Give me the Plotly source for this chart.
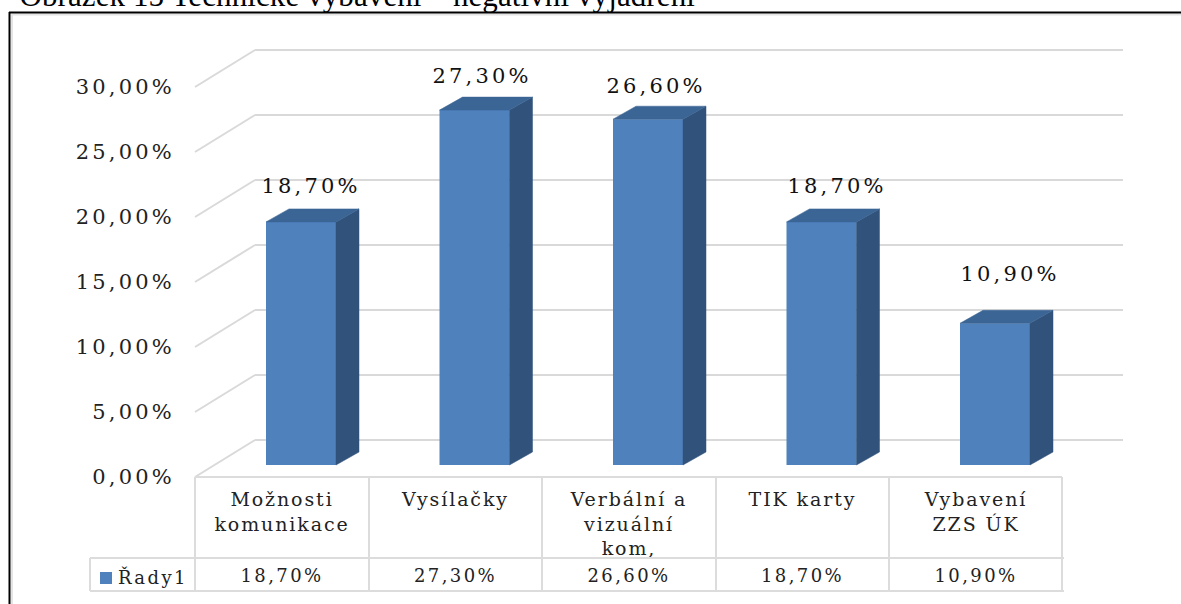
import plotly.graph_objects as go

# --- data ---
categories = ["Možnosti<br>komunikace", "Vysílačky", "Verbální a<br>vizuální<br>kom,", "TIK karty", "Vybavení<br>ZZS ÚK"]
values = [18.7, 27.3, 26.6, 18.7, 10.9]
value_labels = ["18,70%", "27,30%", "26,60%", "18,70%", "10,90%"]
tick_values = [0, 5, 10, 15, 20, 25, 30]
tick_labels = ["0,00%", "5,00%", "10,00%", "15,00%", "20,00%", "25,00%", "30,00%"]
series_name = "Řady1"
title_text = "Obrázek 15 Technické vybavení – negativní vyjádření"

# --- geometry (page pixels -> axis units) ---
W, H = 1181, 604
PX_X = 173.5                # pixels per category
PX_Y = 13.0                 # pixels per percentage point
X0_PX, Y0_PX = 282.0, 477.0 # front-plane origin
def ux(px): return (px - X0_PX) / PX_X
def uy(py): return (Y0_PX - py) / PX_Y

bar_w = 70 / PX_X
bar_dx = 19.0 / PX_X        # bar front face sits this far into the floor
bar_base = 12 / PX_Y
depth_x = 23 / PX_X
depth_y = 13 / PX_Y
wall_dx = 60 / PX_X
wall_dy = 37 / PX_Y

FRONT, SIDE, TOP = "#4f81bd", "#31527a", "#3b6594"
GRID, TABLE = "#d9d9d9", "#dcdcdc"
SERIF = "DejaVu Serif"

fig = go.Figure()

# bars: front faces
xs = [i + bar_dx for i in range(len(values))]
fig.add_trace(go.Bar(x=xs, y=values, base=bar_base, width=bar_w,
                     marker=dict(color=FRONT, line_width=0), name=series_name, showlegend=False))

# side and top faces derive from each value
for x, v in zip(xs, values):
    l, r = x - bar_w / 2, x + bar_w / 2
    t = v + bar_base
    fig.add_trace(go.Scatter(
        x=[r, r + depth_x, r + depth_x, r, r],
        y=[bar_base, bar_base + depth_y, t + depth_y, t, bar_base],
        mode="lines", fill="toself", fillcolor=SIDE, line=dict(color=SIDE, width=0.5),
        hoverinfo="skip", showlegend=False))
    fig.add_trace(go.Scatter(
        x=[l, l + depth_x, r + depth_x, r, l],
        y=[t, t + depth_y, t + depth_y, t, t],
        mode="lines", fill="toself", fillcolor=TOP, line=dict(color=TOP, width=0.5),
        hoverinfo="skip", showlegend=False))

# value labels above the bars
label_dx = [10, 7, 8, 15, 15]
label_up = [36, 34, 33, 36, 49]
for x, v, s, dx, up in zip(xs, values, value_labels, label_dx, label_up):
    fig.add_annotation(x=x + dx / PX_X, y=v + bar_base + up / PX_Y, text=s, showarrow=False,
                       xanchor="center", yanchor="middle",
                       font=dict(family=SERIF, size=21, color="#111"))

# data-table row values
row_y = uy(577)
fig.add_trace(go.Scatter(x=list(range(len(values))), y=[row_y] * len(values), text=value_labels,
                         mode="text", textposition="middle center",
                         textfont=dict(family=SERIF, size=18, color="#222"),
                         hoverinfo="skip", showlegend=False))
fig.add_trace(go.Scatter(x=[ux(106)], y=[row_y - 1 / PX_Y], mode="markers",
                         marker=dict(symbol="square", size=12, color=FRONT),
                         hoverinfo="skip", showlegend=False))
fig.add_annotation(x=ux(153), y=row_y, text=series_name, showarrow=False, xanchor="center",
                   font=dict(family=SERIF, size=18, color="#222"))

# caption, cut off by the page top as in the reference
fig.add_annotation(xref="paper", yref="paper", x=357 / W, y=1 + 4 / H, text=title_text,
                   showarrow=False, xanchor="center", yanchor="middle",
                   font=dict(family="Liberation Serif", size=31, color="#000"))

# gridlines: side wall diagonal + back wall, behind the bars
x_left, x_right = ux(195), ux(1123)
shapes = []
for t in tick_values:
    for (xa, ya, xb, yb) in [(x_left, t, x_left + wall_dx, t + wall_dy),
                             (x_left + wall_dx, t + wall_dy, x_right, t + wall_dy)]:
        shapes.append(dict(type="line", xref="x", yref="y", x0=xa, y0=ya, x1=xb, y1=yb,
                           layer="below", line=dict(color=GRID, width=2)))

# page frame and table grid
def hline(x0, x1, y, color, w):
    return dict(type="line", xref="paper", yref="paper", x0=x0 / W, x1=x1 / W,
                y0=1 - y / H, y1=1 - y / H, line=dict(color=color, width=w))
def vline(x, y0, y1, color, w):
    return dict(type="line", xref="paper", yref="paper", x0=x / W, x1=x / W,
                y0=1 - y0 / H, y1=1 - y1 / H, line=dict(color=color, width=w))

shapes += [
    hline(12, W, 14.5, "#e4e4e4", 2), vline(12, 14, H, "#e4e4e4", 2),
    hline(9, W, 12.5, "#000000", 2), vline(9.5, 12, H, "#000000", 2),
    hline(195, 1062, 477, TABLE, 2),
    hline(90, 1064, 558, TABLE, 2),
    hline(90, 1064, 591, TABLE, 2),
    vline(90, 558, 591, TABLE, 2),
]
for cx in [195, 369, 542, 716, 889, 1062]:
    shapes.append(vline(cx, 477, 591, TABLE, 2))

fig.update_layout(
    width=W, height=H, autosize=False,
    margin=dict(l=0, r=0, t=0, b=0),
    paper_bgcolor="white", plot_bgcolor="white",
    showlegend=False, shapes=shapes,
    xaxis=dict(range=[ux(0), ux(W)], domain=[0, 1], showgrid=False, zeroline=False, showline=False,
               tickmode="array", tickvals=list(range(len(categories))), ticktext=categories,
               ticks="", anchor="free", position=1 - 477 / H, ticklabelstandoff=9,
               tickfont=dict(family=SERIF, size=19, color="#222")),
    yaxis=dict(range=[uy(H), uy(0)], domain=[0, 1], showgrid=False, zeroline=False, showline=False,
               tickmode="array", tickvals=tick_values, ticktext=tick_labels,
               ticks="", anchor="free", position=195 / W, ticklabelstandoff=20,
               tickfont=dict(family=SERIF, size=21, color="#222")),
)

post = """
document.body.style.margin = '0';
document.documentElement.style.overflow = 'hidden';
function sp(sel, v){ document.querySelectorAll(sel).forEach(function(e){ e.style.letterSpacing = v; }); }
sp('.ytick text', '3.2px');
sp('.xtick text', '1.9px');
sp('.annotation-text', '3.2px');
sp('.textpoint text', '2.4px');
sp('.annotation[data-index="5"] .annotation-text', '2.4px');
sp('.annotation[data-index="6"] .annotation-text', '0.1px');
"""
fig.write_html("out.html", post_script=post, config=dict(displayModeBar=False))
